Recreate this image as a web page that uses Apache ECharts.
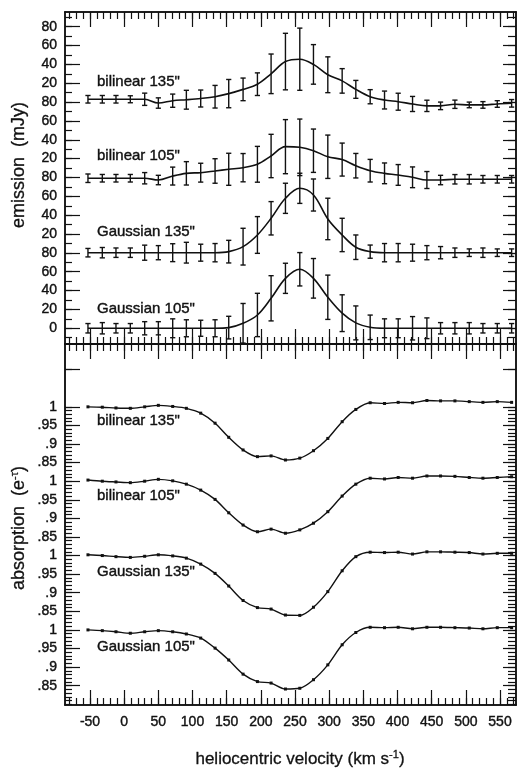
<!DOCTYPE html>
<html>
<head>
<meta charset="utf-8">
<script src="https://cdn.jsdelivr.net/npm/echarts@6/dist/echarts.min.js"></script>
<style>
html, body { margin: 0; padding: 0; background: #fff; }
#main { width: 519px; height: 768px; }
</style>
</head>
<body>
<div id="main"></div>
<script>
// channel velocities (km/s)
var velocity = [-53, -32, -12, 9, 30, 50, 71, 91, 112, 133, 153, 174, 195, 215, 236, 257,
    277, 298, 319, 339, 360, 381, 401, 422, 443, 463, 484, 505, 525, 546, 567];

var specNames = ['bilinear 135"', 'bilinear 105"', 'Gaussian 135"', 'Gaussian 105"'];

// emission (mJy), relative to each spectrum's own zero
var emBil135 = [3, 3, 3, 3, 3, -1, 1.5, 2.5, 3.8, 5.7, 9, 13.5, 19, 30, 43, 45.5,
    40, 29, 22.5, 13.5, 5.7, 2.2, 0.4, -2, -4, -4, -2.3, -3, -3, -2, -1.3];
var emBil135Err = [4, 4, 4, 3.7, 6.5, 5.5, 7, 10, 9, 12, 15, 12, 12, 21, 30, 33,
    21, 19, 13, 9.5, 7.5, 9.5, 9, 8, 6, 4, 4.4, 3, 3.5, 3.5, 4];
var emBil105 = [-0.8, -0.8, -0.8, -0.8, -0.8, -2.7, 1.5, 4.4, 5.1, 6.9, 8.7, 10.4, 14, 22.8, 32.7, 32,
    28.4, 22, 19, 12.5, 7.2, 4.4, 2.7, 0.2, -2.7, -2.7, -1.9, -1.9, -1.9, -1.9, -1.9];
var emBil105Err = [4.5, 4, 4, 4, 6, 5, 9.5, 12.4, 10, 13, 17, 15, 19, 23, 28.7, 30,
    23, 23, 17.5, 13, 12, 11, 11, 11, 9, 5, 5, 5, 4, 4, 4];
var emGau135 = [0.2, 0.2, 0.2, 0.2, 0.2, 0.2, 0.2, 0.2, 0.2, 0.2, 1.3, 6.6, 19, 36.7, 57.9, 68.5,
    61.4, 36, 19, 6, 1.3, 0.2, 0.2, 0.2, 0.2, 0.2, 0.2, 0.2, 0.2, 0.2, 0.2];
var emGau135Err = [4.5, 5.5, 5, 5, 8, 7.5, 9.5, 11, 9, 9.7, 12, 19.5, 19.5, 17.7, 16, 16,
    17, 22, 17.7, 13, 7, 9.7, 9.7, 9, 7.5, 6.5, 5, 4, 5, 4, 4];
var emGau105 = [0, 0, 0, 0, 0, 0, 0, 0, 0, 0, 0.7, 5.3, 14.1, 31.8, 53, 62.6,
    53, 32.9, 16, 5.7, 1, 0, 0, 0, 0, 0, 0, 0, 0, 0, 0];
var emGau105Err = [5, 6, 5, 5, 7, 7, 10, 9, 8.5, 9, 12, 21, 23, 24, 16, 17.7,
    21, 23.5, 19.5, 18, 13, 10, 10, 12.4, 11, 6, 6, 6, 5, 5, 5];

// absorption (e^-tau)
var absBil135 = [1.0, 0.999, 0.997, 0.996, 1.0, 1.004, 1.001, 0.996, 0.983, 0.956, 0.918, 0.884, 0.866, 0.868, 0.857, 0.862,
    0.882, 0.915, 0.96, 0.993, 1.011, 1.009, 1.012, 1.011, 1.017, 1.016, 1.016, 1.014, 1.012, 1.014, 1.012];
var absBil105 = [1.003, 1.0, 0.998, 0.996, 1.0, 1.005, 1.001, 0.992, 0.976, 0.951, 0.915, 0.882, 0.864, 0.871, 0.86, 0.869,
    0.887, 0.918, 0.96, 0.992, 1.008, 1.006, 1.01, 1.008, 1.014, 1.014, 1.013, 1.01, 1.008, 1.01, 1.012];
var absGau135 = [1.002, 1.0, 0.997, 0.995, 0.998, 1.002, 0.999, 0.993, 0.977, 0.952, 0.918, 0.879, 0.86, 0.856, 0.84, 0.839,
    0.861, 0.903, 0.959, 0.997, 1.009, 1.008, 1.009, 1.004, 1.01, 1.01, 1.009, 1.008, 1.004, 1.006, 1.006];
var absGau105 = [1.0, 0.998, 0.995, 0.991, 0.995, 0.998, 0.995, 0.989, 0.978, 0.951, 0.919, 0.881, 0.861, 0.857, 0.841, 0.843,
    0.866, 0.906, 0.96, 0.993, 1.007, 1.006, 1.007, 1.003, 1.007, 1.007, 1.006, 1.005, 1.003, 1.006, 1.006];

// vertical stacking of the spectra
var emOffset = [240, 160, 80, 0];
var absOffset = [0.6, 0.4, 0.2, 0];

// tick labels
var velTicks = [-50, 0, 50, 100, 150, 200, 250, 300, 350, 400, 450, 500, 550];
var emTicks = [0, 20, 40, 60, 80, 100, 120, 140, 160, 180, 200, 220, 240, 260, 280, 300, 320];
var emTickLabels = ['0', '20', '40', '60', '80', '20', '40', '60', '80', '20', '40', '60', '80', '20', '40', '60', '80'];
var absTicks = [0.85, 0.9, 0.95, 1.0, 1.05, 1.1, 1.15, 1.2, 1.25, 1.3, 1.35, 1.4, 1.45, 1.5, 1.55, 1.6];
var absTickLabels = ['.85', '.9', '.95', '1', '.85', '.9', '.95', '1', '.85', '.9', '.95', '1', '.85', '.9', '.95', '1'];

var FONT = '"Liberation Sans", Arial, Helvetica, sans-serif';
var INK = '#111';

function range(a, b, step) {
    var out = [];
    for (var k = 0; a + k * step <= b + 1e-9; k++) out.push(Math.round((a + k * step) * 1000) / 1000);
    return out;
}
var velMinor = range(-80, 570, 10);
var emMinor = range(-10, 330, 10);
var absMajor = absTicks.concat([1.7]);
var absMinor = range(0.8, 1.6, 0.01).concat([1.7]);

var velMin = -86.6, velMax = 573.4;
var emMin = -16.7, emMax = 335.6;
var absMin = 0.798, absMax = 1.769;

function lookup(vals, texts) {
    return function (v) {
        for (var i = 0; i < vals.length; i++) {
            if (Math.abs(vals[i] - v) < 1e-6) return texts[i];
        }
        return '';
    };
}

function xAxisFor(grid, pos, ticks, len, withLabels) {
    return {
        type: 'value', gridIndex: grid, position: pos, min: velMin, max: velMax,
        axisLine: {show: true, onZero: false, lineStyle: {color: INK, width: 1.5}},
        axisTick: {show: true, inside: true, length: len, customValues: ticks, lineStyle: {color: INK, width: 1.2}},
        axisLabel: {show: withLabels, customValues: velTicks, margin: 10, color: INK, fontSize: 14, fontFamily: FONT,
            textBorderColor: INK, textBorderWidth: 0.4},
        splitLine: {show: false}
    };
}

function yAxisFor(grid, pos, min, max, ticks, len, labVals, labTexts) {
    return {
        type: 'value', gridIndex: grid, position: pos, min: min, max: max,
        axisLine: {show: true, onZero: false, lineStyle: {color: INK, width: 1.5}},
        axisTick: {show: true, inside: true, length: len, customValues: ticks, lineStyle: {color: INK, width: 1.2}},
        axisLabel: {
            show: !!labVals, customValues: labVals || [], margin: 8, color: INK, fontSize: 14, fontFamily: FONT,
            textBorderColor: INK, textBorderWidth: 0.4,
            formatter: labVals ? lookup(labVals, labTexts) : null
        },
        splitLine: {show: false}
    };
}

function renderErr(params, api) {
    var x = api.value(0);
    var p1 = api.coord([x, api.value(1)]);
    var p2 = api.coord([x, api.value(2)]);
    var w = 2.6;
    var st = {stroke: INK, lineWidth: 1.4};
    return {
        type: 'group',
        children: [
            {type: 'line', shape: {x1: p1[0], y1: p1[1], x2: p2[0], y2: p2[1]}, style: st},
            {type: 'line', shape: {x1: p1[0] - w, y1: p1[1], x2: p1[0] + w, y2: p1[1]}, style: st},
            {type: 'line', shape: {x1: p2[0] - w, y1: p2[1], x2: p2[0] + w, y2: p2[1]}, style: st}
        ]
    };
}

var emission = [emBil135, emBil105, emGau135, emGau105];
var emissionErr = [emBil135Err, emBil105Err, emGau135Err, emGau105Err];
var absorption = [absBil135, absBil105, absGau135, absGau105];

var series = [];
for (var k = 0; k < 4; k++) {
    (function (k) {
        series.push({
            name: specNames[k], type: 'line', xAxisIndex: 0, yAxisIndex: 0,
            data: velocity.map(function (v, i) { return [v, emission[k][i] + emOffset[k]]; }),
            showSymbol: false, smooth: 0.35, z: 3,
            lineStyle: {color: INK, width: 1.6}
        });
        series.push({
            name: specNames[k] + ' err', type: 'custom', xAxisIndex: 0, yAxisIndex: 0,
            renderItem: renderErr, encode: {x: 0, y: [1, 2]}, z: 4,
            data: velocity.map(function (v, i) {
                var y = emission[k][i] + emOffset[k];
                return [v, y - emissionErr[k][i], y + emissionErr[k][i]];
            })
        });
        series.push({
            name: specNames[k] + ' abs', type: 'line', xAxisIndex: 4, yAxisIndex: 4,
            data: velocity.map(function (v, i) { return [v, absorption[k][i] + absOffset[k]]; }),
            symbol: 'rect', symbolSize: 3, showSymbol: true, smooth: 0.3,
            itemStyle: {color: INK}, lineStyle: {color: INK, width: 1.4}
        });
    })(k);
}

var labelStyle = function (txt, x, y) {
    return {type: 'text', x: x, y: y, z: 10,
        style: {text: txt, fill: INK, stroke: INK, lineWidth: 0.4, font: '15px ' + FONT, textVerticalAlign: 'middle'}};
};

var supStyle = {sup: {fontSize: 11, fontFamily: FONT, verticalAlign: 'top', padding: [0, 0, 8, 0]}};

var chart = echarts.init(document.getElementById('main'));
chart.setOption({
    backgroundColor: '#fff',
    animation: false,
    grid: [
        {left: 65, right: 3, top: 12, height: 332},
        {left: 65, right: 3, top: 344, height: 361}
    ],
    xAxis: [
        xAxisFor(0, 'bottom', velTicks, 15, false),
        xAxisFor(0, 'bottom', velMinor, 7, false),
        xAxisFor(0, 'top', velTicks, 15, false),
        xAxisFor(0, 'top', velMinor, 7, false),
        xAxisFor(1, 'bottom', velTicks, 15, true),
        xAxisFor(1, 'bottom', velMinor, 7, false),
        xAxisFor(1, 'top', velTicks, 15, false),
        xAxisFor(1, 'top', velMinor, 7, false)
    ],
    yAxis: [
        yAxisFor(0, 'left', emMin, emMax, emTicks, 15, emTicks, emTickLabels),
        yAxisFor(0, 'left', emMin, emMax, emMinor, 7),
        yAxisFor(0, 'right', emMin, emMax, emTicks, 13),
        yAxisFor(0, 'right', emMin, emMax, emMinor, 8),
        yAxisFor(1, 'left', absMin, absMax, absMajor, 15, absTicks, absTickLabels),
        yAxisFor(1, 'left', absMin, absMax, absMinor, 7),
        yAxisFor(1, 'right', absMin, absMax, absMajor, 13),
        yAxisFor(1, 'right', absMin, absMax, absMinor, 8)
    ],
    series: series,
    graphic: [
        labelStyle(specNames[0], 97, 82),
        labelStyle(specNames[1], 97, 156),
        labelStyle(specNames[2], 97, 232),
        labelStyle(specNames[3], 97, 309),
        labelStyle(specNames[0], 97, 421),
        labelStyle(specNames[1], 97, 496),
        labelStyle(specNames[2], 97, 572),
        labelStyle(specNames[3], 97, 647),
        {
            type: 'text', x: 19, y: 165, rotation: Math.PI / 2,
            style: {text: 'emission  (mJy)', fill: INK, stroke: INK, lineWidth: 0.3, font: '18px ' + FONT,
                textAlign: 'center', textVerticalAlign: 'middle'}
        },
        {
            type: 'text', x: 19, y: 528, rotation: Math.PI / 2,
            style: {text: 'absorption  (e{sup|-τ})', fill: INK, stroke: INK, lineWidth: 0.3, font: '18px ' + FONT,
                textAlign: 'center', textVerticalAlign: 'middle', rich: supStyle}
        },
        {
            type: 'text', x: 300, y: 759,
            style: {text: 'heliocentric velocity (km s{sup|-1})', fill: INK, stroke: INK, lineWidth: 0.3, font: '17px ' + FONT,
                textAlign: 'center', textVerticalAlign: 'middle', rich: supStyle}
        }
    ]
});
</script>
</body>
</html>
